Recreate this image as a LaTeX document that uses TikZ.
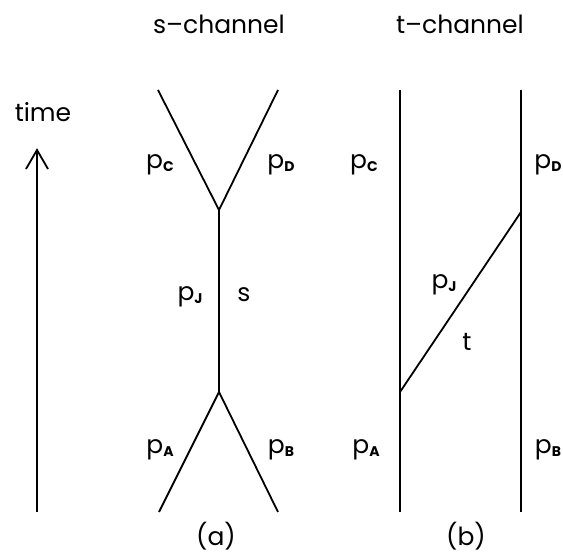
\documentclass[tikz,border=0pt]{standalone}
\usepackage{fontspec}
\setmainfont{Poppins}
\newcommand\mom[1]{p\raisebox{-3pt}{\fontsize{14}{14}\selectfont\bfseries #1}}
\begin{document}
\begin{tikzpicture}[x=1pt,y=1pt,
  line/.style={line width=1.8pt,line cap=butt},
  lbl/.style={inner sep=0pt,font=\fontsize{25}{25}\selectfont}]
\useasboundingbox (0,0) rectangle (563,553);
% time arrow
\coordinate (tb) at (37,41);
\coordinate (tt) at (37,403);
\coordinate (twl) at (26,384);
\coordinate (twr) at (48,384);
\draw[line] (tb) -- (tt);
\draw[line,line join=miter] (twl) -- (tt) -- (twr);
\node[lbl,anchor=base] (time) at (43,431) {time};
% s-channel
\coordinate (sc) at (158,463);
\coordinate (sd) at (278,463);
\coordinate (sup1) at (219,343);
\coordinate (slo) at (219,161);
\coordinate (sa) at (159,41);
\coordinate (sb) at (278,41);
\draw[line] (sc) -- (sup1);
\draw[line] (sd) -- (sup1);
\draw[line] (sup1) -- (slo);
\draw[line] (sa) -- (slo);
\draw[line] (sb) -- (slo);
\node[lbl,anchor=base] (stitle) at (219,519) {s–channel};
\node[lbl] (spc) at (160,388) {\mom{C}};
\node[lbl] (spd) at (281,388) {\mom{D}};
\node[lbl] (spj) at (190,256) {\mom{J}};
\node[lbl] (ss) at (244,258) {s};
\node[lbl] (spa) at (160,103) {\mom{A}};
\node[lbl] (spb) at (281,103) {\mom{B}};
\node[lbl] (la) at (216,17) {(a)};
% t-channel
\coordinate (tlt) at (400,463);
\coordinate (tlb) at (400,41);
\coordinate (trt) at (521,463);
\coordinate (trb) at (521,41);
\coordinate (tv1) at (400,161);
\coordinate (tv2) at (521,341);
\draw[line] (tlt) -- (tlb);
\draw[line] (trt) -- (trb);
\draw[line] (tv1) -- (tv2);
\node[lbl,anchor=base] (ttitle) at (460,519) {t–channel};
\node[lbl] (tpc) at (364,388) {\mom{C}};
\node[lbl] (tpd) at (548,388) {\mom{D}};
\node[lbl] (tpj) at (444,268) {\mom{J}};
\node[lbl] (tt2) at (467,211) {t};
\node[lbl] (tpa) at (366,103) {\mom{A}};
\node[lbl] (tpb) at (548,103) {\mom{B}};
\node[lbl] (lb) at (466,17) {(b)};
\end{tikzpicture}
\end{document}
